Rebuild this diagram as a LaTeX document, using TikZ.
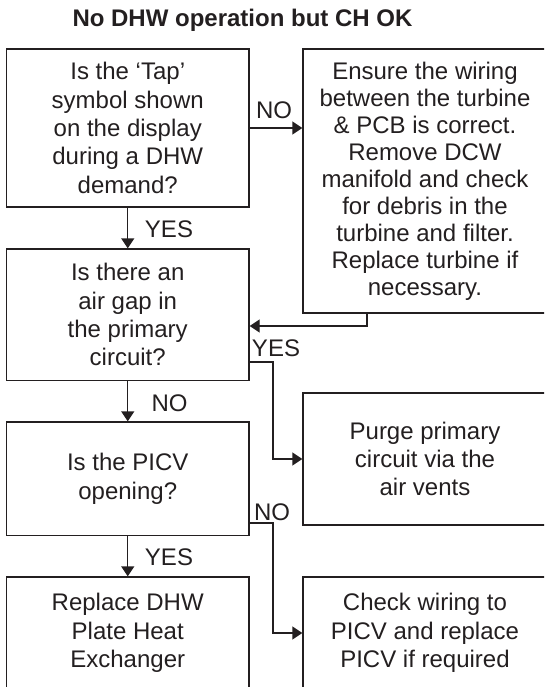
\documentclass[tikz,border=0pt]{standalone}
\usepackage{fontspec}
\setmainfont{Liberation Sans}
\usetikzlibrary{arrows.meta}

\definecolor{ink}{HTML}{231F20}

\tikzset{
  box/.style={draw=ink, line width=1.3pt, align=center, text=ink, inner sep=0pt,
    font=\fontsize{24}{28.3}\selectfont},
  flow/.style={draw=ink, line width=1.3pt, -{Triangle[length=10pt,width=13pt]}},
  answer/.style={text=ink, inner sep=0pt, font=\fontsize{24}{26}\selectfont}
}

\begin{document}
\begin{tikzpicture}[x=1pt,y=-1pt]

  \clip (0,0) rectangle (544,687);

  % Title
  \node[text=ink, font=\bfseries\fontsize{24}{28}\selectfont] (title) at (242.5,20) {No DHW operation but CH OK};

  % Questions (left column)
  \node[box, minimum width=242.5pt, minimum height=158pt] (tap) at (127.75,128)
    {Is the `Tap'\\symbol shown\\on the display\\during a DHW\\demand?};
  \node[box, minimum width=242.5pt, minimum height=131.5pt] (gap) at (127.75,314.75)
    {Is there an\\air gap in\\the primary\\circuit?};
  \node[box, minimum width=242.5pt, minimum height=113.5pt] (picv) at (127.75,478.75)
    {Is the PICV\\opening?};
  \node[box, minimum width=242.5pt, minimum height=112pt] (replace) at (127.75,633)
    {Replace DHW\\Plate Heat\\Exchanger};

  % Actions (right column)
  \node[box, minimum width=244pt, minimum height=264pt, font=\fontsize{24}{27}\selectfont] (wiring) at (425,181)
    {Ensure the wiring\\between the turbine\\\& PCB is correct.\\Remove DCW\\manifold and check\\for debris in the\\turbine and filter.\\Replace turbine if\\necessary.};
  \node[box, minimum width=244pt, minimum height=132pt] (purge) at (425,459)
    {Purge primary\\circuit via the\\air vents};
  \node[box, minimum width=244pt, minimum height=112pt] (check) at (425,633)
    {Check wiring to\\PICV and replace\\PICV if required};

  % Bends
  \coordinate (back) at (367,326);
  \coordinate (bend1) at (273,362);
  \coordinate (bend2) at (273,523);

  % Connectors
  \draw[flow] (tap.east) -- (tap.east -| wiring.west);
  \draw[flow] (tap.south) -- (gap.north);
  \draw[flow] (wiring.south -| back) -- (back) -- (gap.east |- back);
  \draw[flow] (gap.east |- bend1) -- (bend1) |- (purge.west);
  \draw[flow] (gap.south) -- (picv.north);
  \draw[flow] (picv.east |- bend2) -- (bend2) |- (check.west);
  \draw[flow] (picv.south) -- (replace.north);

  % Answers
  \node[answer] (no1) at (274,110) {NO};
  \node[answer] (yes1) at (169,229) {YES};
  \node[answer] (yes2) at (276,348) {YES};
  \node[answer] (no2) at (169.5,403) {NO};
  \node[answer] (no3) at (272,512) {NO};
  \node[answer] (yes3) at (169,557) {YES};

\end{tikzpicture}
\end{document}
